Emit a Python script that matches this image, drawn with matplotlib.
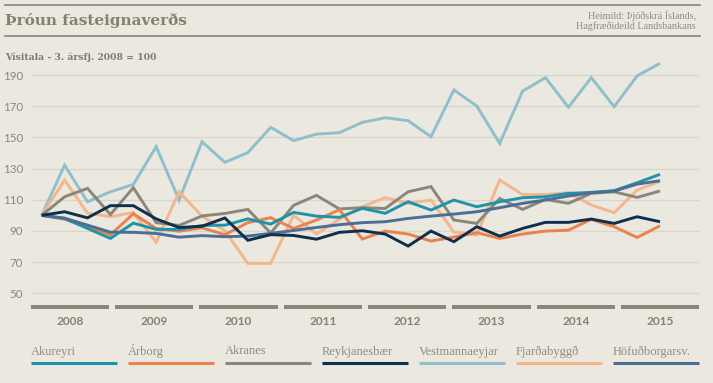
import matplotlib
matplotlib.use("Agg")
import matplotlib.pyplot as plt
from matplotlib.lines import Line2D
import numpy as np

# ---------------- data ----------------
quarters = ["2008Q3", "2008Q4",
            "2009Q1", "2009Q2", "2009Q3", "2009Q4",
            "2010Q1", "2010Q2", "2010Q3", "2010Q4",
            "2011Q1", "2011Q2", "2011Q3", "2011Q4",
            "2012Q1", "2012Q2", "2012Q3", "2012Q4",
            "2013Q1", "2013Q2", "2013Q3", "2013Q4",
            "2014Q1", "2014Q2", "2014Q3", "2014Q4",
            "2015Q1", "2015Q2"]

akureyri = [100, 98.0, 91.6, 85.2, 95.0, 91.0, 91.0, 93.5, 93.7, 97.7,
            94.4, 101.9, 99.5, 98.7, 104.5, 101.3, 108.7, 103.4, 109.8, 105.5,
            108.7, 111.3, 111.9, 114.1, 114.7, 115.8, 120.9, 126.3]
arborg = [100, 97.5, 92.7, 87.5, 101.0, 91.6, 89.8, 92.0, 87.6, 95.3,
          98.5, 91.6, 97.0, 103.6, 84.8, 89.9, 88.0, 83.5, 86.0, 88.9,
          85.2, 88.0, 89.9, 90.5, 97.4, 92.7, 85.8, 93.3]
akranes = [100, 111.9, 117.3, 100.5, 117.7, 95.3, 93.5, 99.6, 101.2, 103.8,
           88.7, 106.4, 112.8, 104.1, 104.9, 104.4, 115.1, 118.4, 97.0, 94.8,
           110.8, 103.8, 110.2, 107.7, 114.1, 115.1, 111.5, 115.6]
reykjanesbaer = [100, 102.3, 98.4, 106.2, 106.2, 97.7, 92.2, 93.0, 98.3, 84.0,
                 87.6, 87.1, 84.7, 89.1, 90.1, 88.0, 80.3, 89.9, 83.1, 92.7,
                 86.7, 91.6, 95.5, 95.5, 97.6, 94.8, 99.1, 95.9]
vestmannaeyjar = [100, 132.2, 108.7, 115.1, 119.8, 144.0, 109.8, 147.2, 134.0, 140.2,
                  156.4, 147.9, 152.1, 153.0, 159.6, 162.6, 160.7, 150.4, 180.4, 170.1,
                  146.1, 179.7, 188.3, 169.3, 188.3, 169.7, 189.4, 197.5]
fjardabyggd = [100, 122.6, 101.5, 99.1, 101.8, 82.7, 115.1, 99.5, 90.0, 69.2,
               69.2, 100.2, 88.0, 97.5, 105.5, 111.3, 107.7, 109.8, 89.3, 87.4,
               122.6, 113.4, 113.4, 114.5, 106.6, 101.7, 116.2, 121.8]
hofudborgarsv = [100, 98.2, 93.7, 89.2, 89.1, 88.4, 86.0, 87.0, 86.3, 86.7,
                 88.4, 90.3, 92.2, 94.0, 95.3, 95.9, 98.0, 99.5, 100.8, 102.3,
                 104.9, 107.7, 109.8, 112.4, 114.5, 115.6, 120.0, 122.2]

series_names = ["Akureyri", "Árborg", "Akranes", "Reykjanesbær",
                "Vestmannaeyjar", "Fjarðabyggð", "Höfuðborgarsv."]
series_values = [akureyri, arborg, akranes, reykjanesbaer,
                 vestmannaeyjar, fjardabyggd, hofudborgarsv]
series_colors = ["#1f94a9", "#e9824c", "#8a8679", "#0e2f4e",
                 "#8fbfcd", "#f3b68d", "#4a6e96"]
# drawing order (back to front)
draw_order = [4, 5, 2, 1, 0, 6, 3]

years = ["2008", "2009", "2010", "2011", "2012", "2013", "2014", "2015"]
y_ticks = [50, 70, 90, 110, 130, 150, 170, 190]

title = "Þróun fasteignaverðs"
subtitle = "Vísitala - 3. ársfj. 2008 = 100"
source = "Heimild: Þjóðskrá Íslands,\nHagfræðideild Landsbankans"

# ---------------- styling ----------------
BG = "#ebe8df"
W, H = 713, 383

fig = plt.figure(figsize=(W / 100, H / 100), dpi=100, facecolor=BG)

def fx(px):
    return px / W

def fy(py):
    return 1 - py / H

# header rules
for ypx in (4.7, 35.5):
    fig.add_artist(Line2D([fx(5), fx(700)], [fy(ypx), fy(ypx)],
                          color="#8e8b7e", lw=1.3))
fig.text(fx(5), fy(21), title, fontsize=11, fontweight="bold",
         family="DejaVu Serif", color="#85806f", va="center", ha="left")
fig.text(fx(696), fy(20.5), source, fontsize=7.3, family="Liberation Serif",
         color="#8f8c80", va="center", ha="right", multialignment="right",
         linespacing=1.1)
fig.text(fx(5), fy(57), subtitle, fontsize=6.7, fontweight="bold",
         family="DejaVu Serif", color="#7f7b6e", va="center", ha="left")

# main axes
left_px, right_px = 30.7, 699.5
first_px, step_px = 41.7, 22.9
top_val, bot_val = 200, 45
px_per_unit = (293.3 - 75) / 140
top_px = 75 - (top_val - 190) * px_per_unit
bot_px = 293.3 + (50 - bot_val) * px_per_unit

ax = fig.add_axes([fx(left_px), fy(bot_px), fx(right_px - left_px),
                   (bot_px - top_px) / H])
ax.set_facecolor(BG)
x = np.arange(len(quarters))
for i in draw_order:
    ax.plot(x, series_values[i], color=series_colors[i], lw=2.1,
            solid_joinstyle="miter", solid_capstyle="butt", zorder=3)
ax.set_xlim(-(first_px - left_px) / step_px, (right_px - first_px) / step_px)
ax.set_ylim(bot_val, top_val)
ax.set_yticks(y_ticks)
ax.set_yticklabels([str(v) for v in y_ticks])
ax.set_xticks([])
ax.grid(axis="y", color="#d8d5cb", lw=0.9, zorder=0)
ax.tick_params(axis="y", length=0, pad=5.5, labelsize=8.3, labelcolor="#8a8779")
for lab in ax.get_yticklabels():
    lab.set_family("Lato")
for s in ax.spines.values():
    s.set_visible(False)

# year bars axes
bar_top, bar_bot = 305.3, 309.3
axb = fig.add_axes([fx(left_px), fy(bar_bot), fx(right_px - left_px),
                    (bar_bot - bar_top) / H])
axb.set_facecolor("none")
n = len(years)
bw = 78.4 / 84.4
axb.bar(np.arange(n) + bw / 2, [1] * n, width=bw, color="#8a877a", align="center")
axb.set_xlim(0, n - (1 - bw))
axb.set_ylim(0, 1)
axb.set_yticks([])
axb.set_xticks(np.arange(n) + bw / 2)
axb.set_xticklabels(years)
axb.tick_params(axis="x", length=0, pad=4.5, labelsize=8.6, labelcolor="#858174")
for lab in axb.get_xticklabels():
    lab.set_fontweight("bold")
    lab.set_family("Lato")
for s in axb.spines.values():
    s.set_visible(False)

# legend
for k, name in enumerate(series_names):
    x0 = 30.7 + 97 * k
    fig.text(fx(x0), fy(351.5), name, fontsize=9, family="Liberation Serif",
             color="#8f8c80", va="center", ha="left")
    fig.add_artist(Line2D([fx(x0), fx(x0 + 86)], [fy(362.7), fy(362.7)],
                          color=series_colors[k], lw=2.2, solid_capstyle="butt"))

fig.savefig("out.png", dpi=100, facecolor=BG)
